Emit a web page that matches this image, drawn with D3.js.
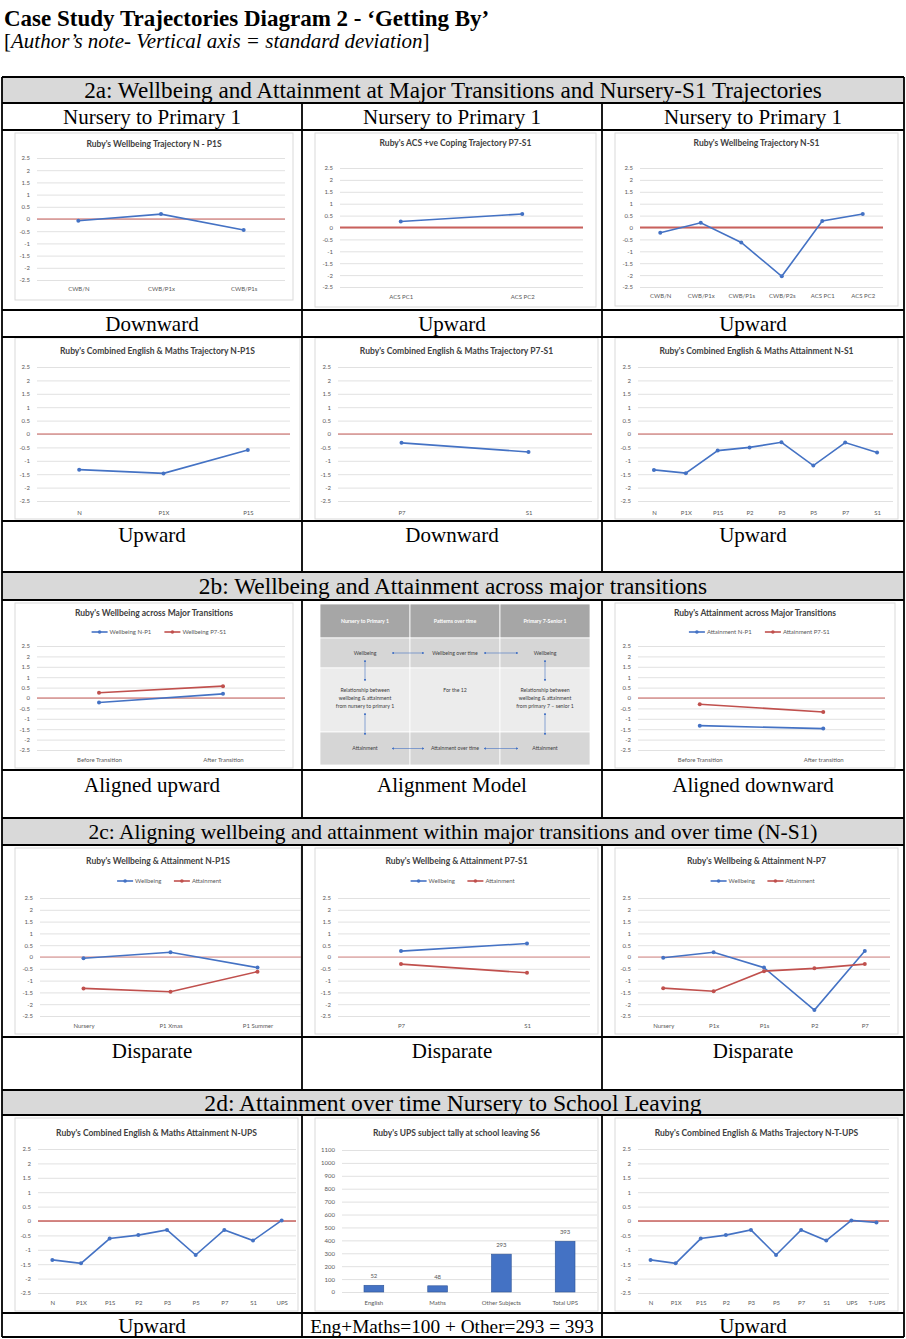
<!DOCTYPE html>
<html>
<head>
<meta charset="utf-8">
<script src="https://cdn.jsdelivr.net/npm/d3@7"></script>
<style>
  body { margin: 0; background: #fff; }
  text { font-family: Lato, "Open Sans", sans-serif; }
  .serif { font-family: "Liberation Serif", "DejaVu Serif", serif; }
</style>
</head>
<body>
<svg id="chart" width="906" height="1339"></svg>
<script>
// ---- data ----
const sdTicks = [2.5, 2, 1.5, 1, 0.5, 0, -0.5, -1, -1.5, -2, -2.5];

const wbNP1sCats = ["CWB/N", "CWB/P1x", "CWB/P1s"];
const wbNP1sVals = [-0.07, 0.2, -0.45];

const acsCats = ["ACS PC1", "ACS PC2"];
const acsVals = [0.25, 0.57];

const wbNS1Cats = ["CWB/N", "CWB/P1x", "CWB/P1s", "CWB/P2s", "ACS PC1", "ACS PC2"];
const wbNS1Vals = [-0.22, 0.2, -0.63, -2.05, 0.27, 0.57];

const attNP1sCats = ["N", "P1X", "P1S"];
const attNP1sVals = [-1.33, -1.47, -0.6];

const attP7S1Cats = ["P7", "S1"];
const attP7S1Vals = [-0.33, -0.67];

const attNS1Cats = ["N", "P1X", "P1S", "P2", "P3", "P5", "P7", "S1"];
const attNS1Vals = [-1.34, -1.46, -0.62, -0.5, -0.31, -1.18, -0.32, -0.69];

const wbTransCats = ["Before Transition", "After Transition"];
const wbTransNP1 = [-0.22, 0.2];
const wbTransP7S1 = [0.25, 0.57];

const attTransCats = ["Before Transition", "After transition"];
const attTransNP1 = [-1.33, -1.47];
const attTransP7S1 = [-0.3, -0.67];

const dispNP1sCats = ["Nursery", "P1 Xmas", "P1 Summer"];
const dispNP1sWb = [-0.05, 0.2, -0.45];
const dispNP1sAtt = [-1.33, -1.47, -0.62];

const dispP7S1Cats = ["P7", "S1"];
const dispP7S1Wb = [0.25, 0.57];
const dispP7S1Att = [-0.3, -0.67];

const dispNP7Cats = ["Nursery", "P1x", "P1s", "P2", "P7"];
const dispNP7Wb = [-0.03, 0.2, -0.45, -2.25, 0.25];
const dispNP7Att = [-1.32, -1.45, -0.6, -0.48, -0.3];

const upsCats = ["N", "P1X", "P1S", "P2", "P3", "P5", "P7", "S1", "UPS"];
const upsVals = [-1.35, -1.47, -0.61, -0.49, -0.31, -1.18, -0.31, -0.68, 0.02];

const tupsCats = ["N", "P1X", "P1S", "P2", "P3", "P5", "P7", "S1", "UPS", "T-UPS"];
const tupsVals = [-1.35, -1.47, -0.61, -0.49, -0.31, -1.18, -0.31, -0.68, 0.02, -0.05];

const tallyCats = ["English", "Maths", "Other Subjects", "Total UPS"];
const tallyVals = [52, 48, 293, 393];
const tallyTicks = [0, 100, 200, 300, 400, 500, 600, 700, 800, 900, 1000, 1100];

const sectionTitles = [
  "2a: Wellbeing and Attainment at Major Transitions and Nursery-S1 Trajectories",
  "2b: Wellbeing and Attainment across major transitions",
  "2c: Aligning wellbeing and attainment within major transitions and over time (N-S1)",
  "2d: Attainment over time Nursery to School Leaving"
];
const subTitles = ["Nursery to Primary 1", "Nursery to Primary 1", "Nursery to Primary 1"];
const rowLabels = [
  ["Downward", "Upward", "Upward"],
  ["Upward", "Downward", "Upward"],
  ["Aligned upward", "Alignment Model", "Aligned downward"],
  ["Disparate", "Disparate", "Disparate"],
  ["Upward", "Eng+Maths=100 + Other=293 = 393", "Upward"]
];

// alignment model table text
const modelHead = ["Nursery to Primary 1", "Patterns over time", "Primary 7-Senior 1"];
const modelTop = ["Wellbeing", "Wellbeing over time", "Wellbeing"];
const modelMid = [
  ["Relationship between", "wellbeing & attainment", "from nursery to primary 1"],
  ["For the 12"],
  ["Relationship between", "wellbeing & attainment", "from primary 7 \u2013 senior 1"]
];
const modelBottom = ["Attainment", "Attainment over time", "Attainment"];

// ---- colours ----
const BLUE = "#4472c4";
const RED = "#c0504d";
const ZERO = "#c9605c";
const GRID = "#d9d9d9";
const TICK = "#595959";

const svg = d3.select("#chart");
svg.append("rect").attr("width", 906).attr("height", 1339).attr("fill", "#fff");

// ---- heading ----
svg.append("text").attr("class", "serif")
  .attr("x", 4).attr("y", 26)
  .style("font-size", "23px").style("font-weight", "bold")
  .text("Case Study Trajectories Diagram 2 - \u2018Getting By\u2019");
const note = svg.append("text").attr("class", "serif")
  .attr("x", 4).attr("y", 48).style("font-size", "21px");
note.append("tspan").text("[");
note.append("tspan").style("font-style", "italic").text("Author\u2019s note- Vertical axis = standard deviation");
note.append("tspan").text("]");

// ---- table frame ----
const colX = [2, 302, 602, 904];
const headerBands = [[77, 103], [572, 600], [818, 845], [1090, 1115]];
const headerSizes = [23.2, 23.4, 21.5, 23.6];
const hLines = [77, 103, 130, 310, 337, 521, 572, 600, 770, 818, 845, 1037, 1090, 1115, 1313, 1337];
const vSpans = [[103, 572], [600, 818], [845, 1090], [1115, 1337]];

headerBands.forEach((b, i) => {
  svg.append("rect").attr("x", colX[0]).attr("y", b[0])
    .attr("width", colX[3] - colX[0]).attr("height", b[1] - b[0]).attr("fill", "#d9d9d9");
  svg.append("text").attr("class", "serif")
    .attr("x", 453).attr("y", (b[0] + b[1]) / 2).attr("dy", "0.35em")
    .attr("text-anchor", "middle").style("font-size", headerSizes[i] + "px")
    .text(sectionTitles[i]);
});

subTitles.forEach((t, i) => {
  svg.append("text").attr("class", "serif")
    .attr("x", (colX[i] + colX[i + 1]) / 2).attr("y", 117).attr("dy", "0.35em")
    .attr("text-anchor", "middle").style("font-size", "21px").text(t);
});

const labelY = [324, 535, 785, 1051, 1326];
rowLabels.forEach((row, r) => {
  row.forEach((t, i) => {
    svg.append("text").attr("class", "serif")
      .attr("x", (colX[i] + colX[i + 1]) / 2).attr("y", labelY[r]).attr("dy", "0.35em")
      .attr("text-anchor", "middle").style("font-size", t.length > 20 ? "19.3px" : "21px").text(t);
  });
});

// ---- chart panels ----
function panelBox(g, box) {
  g.append("rect")
    .attr("x", box[0]).attr("y", box[1])
    .attr("width", box[2] - box[0]).attr("height", box[3] - box[1])
    .attr("fill", "#fff").attr("stroke", GRID).attr("stroke-width", 1);
}

function panelTitle(g, p) {
  g.append("text")
    .attr("x", (p.box[0] + p.box[2]) / 2).attr("y", p.titleY).attr("dy", "0.35em")
    .attr("text-anchor", "middle")
    .style("font-size", "8.5px").style("font-weight", "bold").style("fill", "#404040")
    .text(p.title);
}

function styleAxisText(sel) {
  sel.style("font-size", "6px").style("fill", TICK).style("font-family", "Lato, sans-serif");
}

function drawLineChart(p) {
  const g = svg.append("g");
  panelBox(g, p.box);
  panelTitle(g, p);

  const [left, right, top, bottom] = p.plot;
  const x = d3.scalePoint().domain(p.cats).range([left, right]).padding(0.5);
  const y = d3.scaleLinear().domain([-2.5, 2.5]).range([bottom, top]);

  // gridlines + tick labels
  const yAxis = g.append("g").attr("transform", `translate(${left},0)`)
    .call(d3.axisLeft(y).tickValues(sdTicks).tickSize(-(right - left)).tickPadding(7)
      .tickFormat(d => String(d)));
  yAxis.select(".domain").remove();
  yAxis.selectAll("line").attr("stroke", GRID).attr("stroke-width", 0.8);
  styleAxisText(yAxis.selectAll("text"));

  // category labels
  const xAxis = g.append("g").attr("transform", `translate(0,${p.xlabY})`)
    .call(d3.axisBottom(x).tickSize(0).tickPadding(0));
  xAxis.select(".domain").remove();
  styleAxisText(xAxis.selectAll("text").attr("dy", "0.35em"));

  // zero reference
  g.append("line")
    .attr("x1", left).attr("x2", right).attr("y1", y(0)).attr("y2", y(0))
    .attr("stroke", p.zeroColor || ZERO).attr("stroke-width", p.zeroWidth || 1.2);

  const line = d3.line().x((d, i) => x(p.cats[i])).y(d => y(d));
  p.series.forEach(s => {
    g.append("path").datum(s.values)
      .attr("d", line).attr("fill", "none")
      .attr("stroke", s.color).attr("stroke-width", 1.6);
    g.selectAll(null).data(s.values).join("circle")
      .attr("cx", (d, i) => x(p.cats[i])).attr("cy", d => y(d))
      .attr("r", 2).attr("fill", s.color);
  });

  // legend
  if (p.legendY) {
    const cx = (left + right) / 2;
    const items = p.series.map(s => s.name);
    const widths = items.map(t => 18 + t.length * 3.2);
    const total = d3.sum(widths) + (items.length - 1) * 10;
    let lx = cx - total / 2;
    p.series.forEach((s, i) => {
      g.append("line").attr("x1", lx).attr("x2", lx + 16)
        .attr("y1", p.legendY).attr("y2", p.legendY)
        .attr("stroke", s.color).attr("stroke-width", 1.6);
      g.append("circle").attr("cx", lx + 8).attr("cy", p.legendY).attr("r", 1.8).attr("fill", s.color);
      g.append("text").attr("x", lx + 18).attr("y", p.legendY).attr("dy", "0.35em")
        .style("font-size", "6px").style("fill", TICK).text(s.name);
      lx += widths[i] + 10;
    });
  }
}

function drawBarChart(p) {
  const g = svg.append("g");
  panelBox(g, p.box);
  panelTitle(g, p);

  const [left, right, top, bottom] = p.plot;
  const x = d3.scaleBand().domain(p.cats).range([left, right]).paddingInner(0.69).paddingOuter(0.345);
  const y = d3.scaleLinear().domain([0, 1100]).range([bottom, top]);

  const yAxis = g.append("g").attr("transform", `translate(${left},0)`)
    .call(d3.axisLeft(y).tickValues(tallyTicks).tickSize(-(right - left)).tickPadding(7)
      .tickFormat(d3.format("d")));
  yAxis.select(".domain").remove();
  yAxis.selectAll("line").attr("stroke", GRID).attr("stroke-width", 0.8);
  styleAxisText(yAxis.selectAll("text"));

  const xAxis = g.append("g").attr("transform", `translate(0,${p.xlabY})`)
    .call(d3.axisBottom(x).tickSize(0).tickPadding(0));
  xAxis.select(".domain").remove();
  styleAxisText(xAxis.selectAll("text").attr("dy", "0.35em"));

  g.selectAll(null).data(p.values).join("rect")
    .attr("x", (d, i) => x(p.cats[i])).attr("width", x.bandwidth())
    .attr("y", d => y(d)).attr("height", d => bottom - y(d))
    .attr("fill", BLUE).attr("stroke", "#2f5597").attr("stroke-width", 0.6);
  g.selectAll(null).data(p.values).join("text")
    .attr("x", (d, i) => x(p.cats[i]) + x.bandwidth() / 2).attr("y", d => y(d) - 7)
    .attr("text-anchor", "middle").style("font-size", "6px").style("fill", TICK)
    .text(d => d);
}

function drawModel(box) {
  const g = svg.append("g");
  const cols = d3.scaleBand().domain([0, 1, 2]).range([box[0], box[2]]);
  const rows = [box[1], 638, 668, 732, box[3]];
  const fills = ["#a6a6a6", "#d6d6d6", "#ececec", "#d6d6d6"];
  fills.forEach((f, r) => {
    [0, 1, 2].forEach(c => {
      g.append("rect").attr("x", cols(c)).attr("y", rows[r])
        .attr("width", cols.bandwidth()).attr("height", rows[r + 1] - rows[r])
        .attr("fill", f).attr("stroke", "#fff").attr("stroke-width", 0.8);
    });
  });
  const mid = c => cols(c) + cols.bandwidth() / 2;
  const txt = (t, c, yy, head) => g.append("text")
    .attr("x", mid(c)).attr("y", yy).attr("dy", "0.35em").attr("text-anchor", "middle")
    .style("font-size", "5.2px").style("font-weight", head ? "bold" : "normal")
    .style("fill", head ? "#fff" : "#404040").text(t);
  const rowMid = r => (rows[r] + rows[r + 1]) / 2;
  modelHead.forEach((t, c) => txt(t, c, rowMid(0), true));
  modelTop.forEach((t, c) => txt(t, c, rowMid(1), false));
  modelBottom.forEach((t, c) => txt(t, c, rowMid(3), false));
  modelMid.forEach((lines, c) => {
    lines.forEach((t, k) => txt(t, c, 690 + k * 8, false));
  });

  const defs = svg.append("defs");
  defs.append("marker").attr("id", "arr").attr("viewBox", "0 0 6 6")
    .attr("refX", 5).attr("refY", 3).attr("markerWidth", 4).attr("markerHeight", 4)
    .attr("orient", "auto-start-reverse")
    .append("path").attr("d", "M0,0L6,3L0,6Z").attr("fill", BLUE);
  const arrow = (x1, y1, x2, y2) => g.append("line")
    .attr("x1", x1).attr("y1", y1).attr("x2", x2).attr("y2", y2)
    .attr("stroke", BLUE).attr("stroke-width", 0.6)
    .attr("marker-start", "url(#arr)").attr("marker-end", "url(#arr)");
  [rowMid(1), rowMid(3)].forEach(yy => {
    arrow(cols(1) - 18, yy, cols(1) + 14, yy);
    arrow(cols(2) - 16, yy, cols(2) + 18, yy);
  });
  [0, 2].forEach(c => {
    arrow(mid(c), 660, mid(c), 681);
    arrow(mid(c), 713, mid(c), 735);
  });
}

// ---- panel layouts ----
const lineCharts = [
  { title: "Ruby's Wellbeing Trajectory N - P1S", box: [15, 133, 293, 300], plot: [37, 285, 158, 280],
    titleY: 144, xlabY: 289, cats: wbNP1sCats,
    series: [{ name: "Wellbeing", values: wbNP1sVals, color: BLUE }] },
  { title: "Ruby's ACS +ve Coping Trajectory P7-S1", box: [315, 133, 596, 307], plot: [340, 583, 168, 287],
    titleY: 143, xlabY: 297, cats: acsCats, zeroWidth: 1.8,
    series: [{ name: "ACS", values: acsVals, color: BLUE }] },
  { title: "Ruby's Wellbeing Trajectory N-S1", box: [615, 133, 898, 306], plot: [640, 883, 168, 287],
    titleY: 143, xlabY: 296, cats: wbNS1Cats, zeroWidth: 1.8,
    series: [{ name: "Wellbeing", values: wbNS1Vals, color: BLUE }] },

  { title: "Ruby's Combined English & Maths Trajectory N-P1S", box: [15, 338, 300, 519], plot: [37, 290, 367, 501],
    titleY: 351, xlabY: 513, cats: attNP1sCats,
    series: [{ name: "Attainment", values: attNP1sVals, color: BLUE }] },
  { title: "Ruby's Combined English & Maths Trajectory P7-S1", box: [315, 338, 598, 519], plot: [338, 592, 367, 501],
    titleY: 351, xlabY: 513, cats: attP7S1Cats,
    series: [{ name: "Attainment", values: attP7S1Vals, color: BLUE }] },
  { title: "Ruby's Combined English & Maths Attainment N-S1", box: [615, 338, 898, 519], plot: [638, 893, 367, 501],
    titleY: 351, xlabY: 513, cats: attNS1Cats,
    series: [{ name: "Attainment", values: attNS1Vals, color: BLUE }] },

  { title: "Ruby's Wellbeing across Major Transitions", box: [15, 603, 293, 768], plot: [37, 285, 646, 750],
    titleY: 613, legendY: 632, xlabY: 760, cats: wbTransCats,
    series: [{ name: "Wellbeing N-P1", values: wbTransNP1, color: BLUE },
             { name: "Wellbeing P7-S1", values: wbTransP7S1, color: RED }] },
  { title: "Ruby's Attainment across Major Transitions", box: [615, 603, 895, 768], plot: [638, 885, 646, 750],
    titleY: 613, legendY: 632, xlabY: 760, cats: attTransCats,
    series: [{ name: "Attainment N-P1", values: attTransNP1, color: BLUE },
             { name: "Attainment P7-S1", values: attTransP7S1, color: RED }] },

  { title: "Ruby's Wellbeing & Attainment N-P1S", box: [15, 848, 301, 1034], plot: [40, 301, 898, 1016],
    titleY: 861, legendY: 881, xlabY: 1026, cats: dispNP1sCats, zeroColor: "#d98a87",
    series: [{ name: "Wellbeing", values: dispNP1sWb, color: BLUE },
             { name: "Attainment", values: dispNP1sAtt, color: RED }] },
  { title: "Ruby's Wellbeing & Attainment P7-S1", box: [315, 848, 598, 1034], plot: [338, 590, 898, 1016],
    titleY: 861, legendY: 881, xlabY: 1026, cats: dispP7S1Cats, zeroColor: "#d98a87",
    series: [{ name: "Wellbeing", values: dispP7S1Wb, color: BLUE },
             { name: "Attainment", values: dispP7S1Att, color: RED }] },
  { title: "Ruby's Wellbeing & Attainment N-P7", box: [615, 848, 898, 1034], plot: [638, 890, 898, 1016],
    titleY: 861, legendY: 881, xlabY: 1026, cats: dispNP7Cats, zeroColor: "#d98a87",
    series: [{ name: "Wellbeing", values: dispNP7Wb, color: BLUE },
             { name: "Attainment", values: dispNP7Att, color: RED }] },

  { title: "Ruby's Combined English & Maths Attainment N-UPS", box: [15, 1118, 298, 1311], plot: [38, 296, 1149, 1293],
    titleY: 1133, xlabY: 1303, cats: upsCats, zeroWidth: 1.6,
    series: [{ name: "Attainment", values: upsVals, color: BLUE }] },
  { title: "Ruby's Combined English & Maths Trajectory N-T-UPS", box: [615, 1118, 898, 1311], plot: [638, 889, 1149, 1293],
    titleY: 1133, xlabY: 1303, cats: tupsCats, zeroWidth: 1.6,
    series: [{ name: "Attainment", values: tupsVals, color: BLUE }] }
];

lineCharts.forEach(drawLineChart);

drawBarChart({ title: "Ruby's UPS  subject tally at school leaving S6", box: [315, 1118, 598, 1311],
  plot: [342, 597, 1150, 1292], titleY: 1133, xlabY: 1303, cats: tallyCats, values: tallyVals });

drawModel([320, 604, 590, 765]);

// ---- table lines on top ----
hLines.forEach(yy => {
  svg.append("line").attr("x1", colX[0]).attr("x2", colX[3]).attr("y1", yy).attr("y2", yy)
    .attr("stroke", "#000").attr("stroke-width", 1.8);
});
svg.append("line").attr("x1", colX[0]).attr("x2", colX[0]).attr("y1", 77).attr("y2", 1337)
  .attr("stroke", "#000").attr("stroke-width", 1.8);
svg.append("line").attr("x1", colX[3]).attr("x2", colX[3]).attr("y1", 77).attr("y2", 1337)
  .attr("stroke", "#000").attr("stroke-width", 1.8);
vSpans.forEach(s => {
  [colX[1], colX[2]].forEach(xx => {
    svg.append("line").attr("x1", xx).attr("x2", xx).attr("y1", s[0]).attr("y2", s[1])
      .attr("stroke", "#000").attr("stroke-width", 1.8);
  });
});
</script>
</body>
</html>
